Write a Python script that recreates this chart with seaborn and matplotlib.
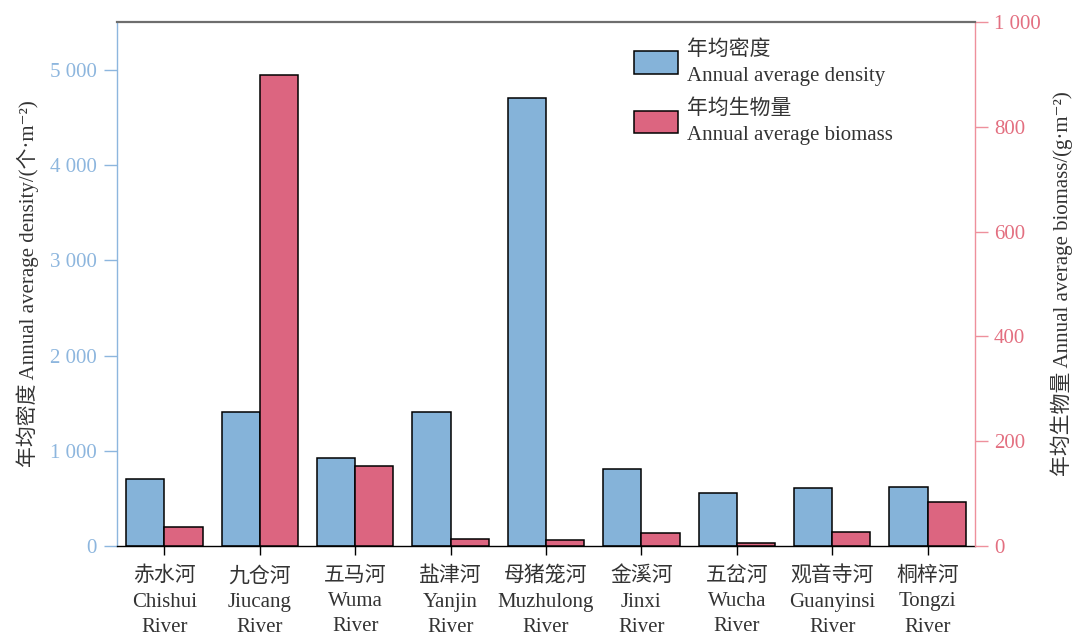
"""
Annual average density and biomass per river, dual-axis grouped bars.
"""
import matplotlib
matplotlib.use("Agg")
import matplotlib.pyplot as plt
import matplotlib.patches as mpatches
from matplotlib.ticker import FuncFormatter, MultipleLocator
import pandas as pd
import seaborn as sns

# --- data ---------------------------------------------------------------
rivers_cn = ["赤水河", "九仓河", "五马河", "盐津河", "母猪笼河",
             "金溪河", "五岔河", "观音寺河", "桐梓河"]
rivers_en = ["Chishui", "Jiucang", "Wuma", "Yanjin", "Muzhulong",
             "Jinxi", "Wucha", "Guanyinsi", "Tongzi"]
density = [703, 1410, 927, 1410, 4708, 811, 553, 612, 619]      # 个/m2
biomass = [37, 900, 153, 13, 12, 24, 6, 27, 84]                  # g/m2

series_names = ["年均密度\nAnnual average density", "年均生物量\nAnnual average biomass"]

BLUE = "#85B3D9"
RED = "#DC6580"
BLUE_AX = "#8DB6DE"
RED_AX = "#E36F80"
RED_SPINE = "#EE909C"
TXT = "#333333"
FS = 15

plt.rcParams["font.family"] = ["Liberation Serif", "DejaVu Serif", "Noto Sans CJK SC"]
plt.rcParams["font.size"] = FS

labels = [f"{c}\n{e}\nRiver" for c, e in zip(rivers_cn, rivers_en)]
df = pd.DataFrame({
    "river": labels * 2,
    "series": [series_names[0]] * len(labels) + [series_names[1]] * len(labels),
    "value": density + biomass,
})

fig = plt.figure(figsize=(10.8, 6.37), dpi=100)
ax = fig.add_axes([0.108, 0.143, 0.795, 0.822])
ax2 = ax.twinx()

common = dict(x="river", y="value", hue="series", hue_order=series_names,
              palette=[BLUE, RED], order=labels, width=0.8, dodge=True, saturation=1,
              edgecolor="black", linewidth=1.1, legend=False)
sns.barplot(data=df[df.series == series_names[0]], ax=ax, **common)
sns.barplot(data=df[df.series == series_names[1]], ax=ax2, **common)

ax.set_xlim(-0.5, len(labels) - 0.5)
ax.set_ylim(0, 5500)
ax2.set_ylim(0, 1000)
ax.yaxis.set_major_locator(MultipleLocator(1000))
ax2.yaxis.set_major_locator(MultipleLocator(200))
fmt = FuncFormatter(lambda v, p: f"{int(v):,}".replace(",", " "))
ax.yaxis.set_major_formatter(fmt)
ax2.yaxis.set_major_formatter(fmt)

ax.set_xticks(range(len(labels)))
ax.set_xticklabels(labels, color=TXT, fontsize=FS, linespacing=1.45)
ax.set_xlabel("")

ax.set_ylabel("年均密度 Annual average density/(个·m⁻²)", color=TXT, fontsize=FS, labelpad=8)
ax2.set_ylabel("年均生物量 Annual average biomass/(g·m⁻²)", color=TXT, fontsize=FS,
               rotation=90, labelpad=7)

# spines
for s in ["top", "right"]:
    ax.spines[s].set_visible(False)
for s in ["left", "bottom"]:
    ax2.spines[s].set_visible(False)
ax.spines["left"].set_color(BLUE_AX)
ax.spines["left"].set_linewidth(1.0)
ax.spines["bottom"].set_color("black")
ax.spines["bottom"].set_linewidth(1.0)
ax2.spines["top"].set_color("#6E6E6E")
ax2.spines["top"].set_linewidth(1.6)
ax2.spines["right"].set_color(RED_SPINE)
ax2.spines["right"].set_linewidth(1.0)

ax.tick_params(axis="y", colors=BLUE_AX, labelcolor=BLUE_AX, length=9.5, width=1.0, pad=5, labelsize=FS)
ax2.tick_params(axis="y", colors=RED_SPINE, labelcolor=RED_AX, length=9.5, width=1.0, pad=4, labelsize=FS)
ax.tick_params(axis="x", colors="black", labelcolor=TXT, length=6.5, width=1.0, pad=8.5)

# legend
handles = [mpatches.Patch(facecolor=c, edgecolor="black", linewidth=1.1) for c in [BLUE, RED]]
leg = fig.legend(handles, series_names, loc="upper left", bbox_to_anchor=(634 / 1080, 1 - 40 / 637),
                 frameon=False, borderpad=0, borderaxespad=0, handlelength=2.1, handleheight=1.3,
                 handletextpad=0.45, labelspacing=0.65, fontsize=FS, labelcolor=TXT)
for t in leg.get_texts():
    t.set_linespacing(1.5)

fig.savefig("out.png", dpi=100)
